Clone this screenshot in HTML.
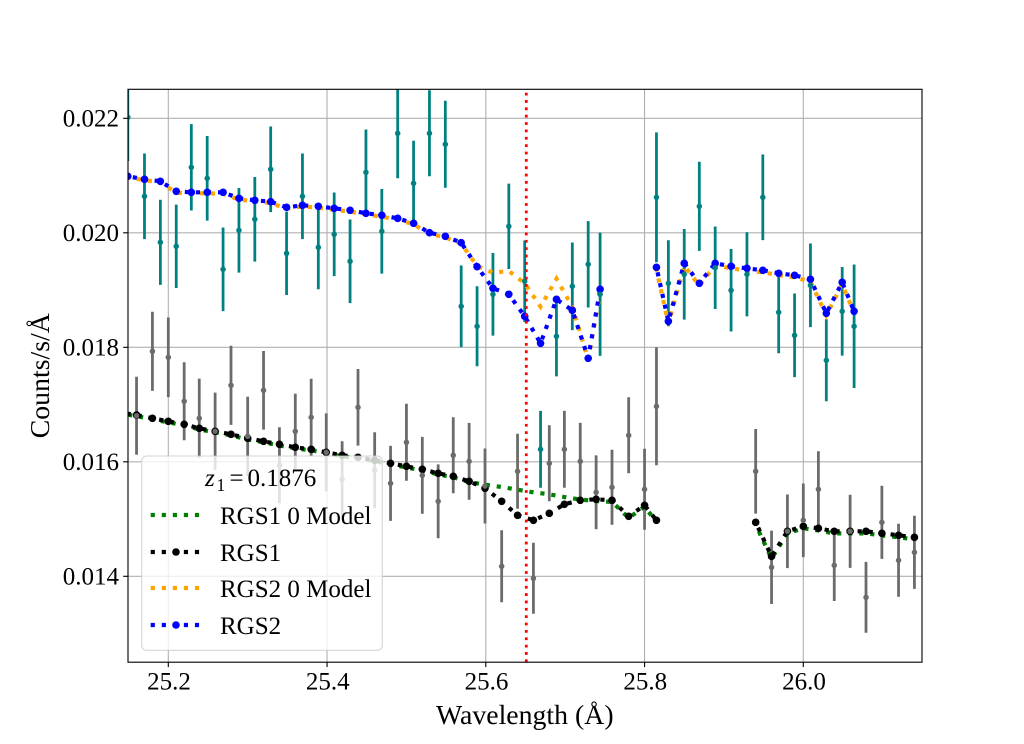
<!DOCTYPE html>
<html lang="en">
<head>
<meta charset="utf-8">
<title>RGS spectrum chart</title>
<style>
html,body{margin:0;padding:0;background:#fff;}
svg{display:block;font-family:"Liberation Serif","DejaVu Serif",serif;}
</style>
</head>
<body>
<svg id="chart" xmlns="http://www.w3.org/2000/svg" width="1024" height="744" viewBox="0 0 1024 744">
  <defs>
    <clipPath id="plot-clip"><rect x="128" y="89.3" width="793.6" height="572.9"/></clipPath>
  </defs>
  <rect x="0" y="0" width="1024" height="744" fill="#fff"/>
  <g id="grid"></g>
  <g id="marks" clip-path="url(#plot-clip)"></g>
  <rect x="128" y="89.3" width="794" height="572.9" fill="none" stroke="#000" stroke-width="1.11"/>
  <g id="ticks"></g>
  <text x="524.8" y="724" font-size="27.8" text-anchor="middle">Wavelength (Å)</text>
  <text transform="translate(49 375.7) rotate(-90)" font-size="27.8" text-anchor="middle">Counts/s/Å</text>
  <g id="legend">
    <rect x="141.7" y="456" width="240.6" height="194.3" rx="5" ry="5" fill="#fff" fill-opacity="0.8" stroke="#ccc" stroke-opacity="0.8" stroke-width="1.11"/>
    <g>
      <text x="205" y="486" font-size="25" font-style="italic">z</text>
      <text x="216.5" y="491" font-size="17.5">1</text>
      <text x="229.5" y="486" font-size="25">=</text>
      <text x="247.5" y="486" font-size="25">0.1876</text>
    </g>
    <g>
      <line x1="150.7" x2="200" y1="515" y2="515" stroke="#008000" stroke-width="4.17" stroke-dasharray="4.17 6.88"/>
      <text x="220" y="524" font-size="25">RGS1 0 Model</text>
    </g>
    <g>
      <line x1="150.7" x2="200" y1="552" y2="552" stroke="#000" stroke-width="4.17" stroke-dasharray="4.17 6.88"/>
      <circle cx="176" cy="552" r="3.8" fill="#000"/>
      <text x="220" y="561" font-size="25">RGS1</text>
    </g>
    <g>
      <line x1="150.7" x2="200" y1="588" y2="588" stroke="#ffa500" stroke-width="4.17" stroke-dasharray="4.17 6.88"/>
      <text x="220" y="597" font-size="25">RGS2 0 Model</text>
    </g>
    <g>
      <line x1="150.7" x2="200" y1="625" y2="625" stroke="#0000ff" stroke-width="4.17" stroke-dasharray="4.17 6.88"/>
      <circle cx="176" cy="625" r="3.8" fill="#0000ff"/>
      <text x="220" y="634" font-size="25">RGS2</text>
    </g>
  </g>
</svg>
<script>
const xTicks = [25.2, 25.4, 25.6, 25.8, 26.0];
const xTickLabels = ['25.2', '25.4', '25.6', '25.8', '26.0'];
const yTicks = [0.014, 0.016, 0.018, 0.020, 0.022];
const yTickLabels = ['0.014', '0.016', '0.018', '0.020', '0.022'];
const referenceWavelength = 25.651;

const rgs1Wave = [25.140,25.160,25.180,25.200,25.220,25.239,25.259,25.279,25.300,25.320,25.340,25.360,25.380,25.399,25.419,25.439,25.460,25.480,25.500,25.520,25.540,25.559,25.579,25.599,25.620,25.640,25.660,25.680,25.699,25.719,25.739,25.759,25.780,25.800,25.815,25.940,25.960,25.980,26.000,26.019,26.039,26.059,26.079,26.099,26.120,26.140];
const rgs1Counts = [0.016900,0.016805,0.017930,0.017825,0.017057,0.016760,0.016533,0.017336,0.016445,0.017249,0.015939,0.016533,0.016777,0.016166,0.015694,0.016952,0.015852,0.015624,0.016341,0.015764,0.015310,0.016114,0.016009,0.015577,0.014175,0.015834,0.013965,0.015974,0.016218,0.016009,0.015467,0.015555,0.016463,0.015520,0.016969,0.015834,0.014157,0.014786,0.014978,0.015520,0.014192,0.014786,0.013633,0.014943,0.014280,0.014419];
const rgs1Err = [0.000680,0.000681,0.000692,0.000695,0.000681,0.000692,0.000676,0.000690,0.000692,0.000686,0.000664,0.000657,0.000674,0.000680,0.000664,0.000669,0.000664,0.000655,0.000672,0.000672,0.000646,0.000664,0.000672,0.000655,0.000629,0.000655,0.000620,0.000664,0.000672,0.000672,0.000646,0.000655,0.000664,0.000707,0.001030,0.000739,0.000641,0.000643,0.000643,0.000664,0.000624,0.000638,0.000620,0.000638,0.000638,0.000638];
const rgs1Fit = [0.016858,0.016817,0.016760,0.016707,0.016655,0.016585,0.016533,0.016480,0.016410,0.016358,0.016306,0.016253,0.016218,0.016166,0.016114,0.016079,0.016026,0.015974,0.015921,0.015869,0.015799,0.015747,0.015659,0.015537,0.015310,0.015066,0.014978,0.015100,0.015258,0.015328,0.015345,0.015328,0.015048,0.015240,0.014978,0.014943,0.014349,0.014786,0.014873,0.014838,0.014786,0.014786,0.014786,0.014751,0.014716,0.014681];
const rgs1Model = [0.016840,0.016800,0.016740,0.016690,0.016635,0.016565,0.016515,0.016460,0.016390,0.016340,0.016285,0.016235,0.016200,0.016150,0.016095,0.016060,0.016010,0.015955,0.015900,0.015850,0.015780,0.015730,0.015647,0.015600,0.015560,0.015513,0.015467,0.015432,0.015385,0.015341,0.015315,0.015300,0.015020,0.015215,0.014950,0.014900,0.014310,0.014750,0.014840,0.014800,0.014750,0.014750,0.014750,0.014715,0.014680,0.014645];

const rgs2Wave = [25.149,25.170,25.190,25.210,25.229,25.249,25.269,25.289,25.309,25.329,25.349,25.369,25.389,25.409,25.429,25.449,25.469,25.489,25.509,25.529,25.549,25.569,25.589,25.609,25.629,25.649,25.669,25.689,25.709,25.729,25.744,25.815,25.830,25.850,25.869,25.889,25.909,25.929,25.949,25.969,25.989,26.009,26.029,26.049,26.064];
const rgs2Counts = [0.022017,0.020638,0.019834,0.019764,0.021144,0.020952,0.019362,0.020044,0.020236,0.021109,0.019642,0.020638,0.019747,0.019974,0.019502,0.021057,0.020026,0.021738,0.020865,0.021738,0.021546,0.018716,0.018367,0.018926,0.020114,0.019153,0.016218,0.018192,0.019066,0.019450,0.018926,0.020620,0.019118,0.019275,0.020463,0.019390,0.018996,0.019275,0.020620,0.018611,0.018210,0.019083,0.017773,0.018629,0.018367];
const rgs2Err = [0.000763,0.000748,0.000744,0.000728,0.000754,0.000739,0.000730,0.000739,0.000739,0.000748,0.000728,0.000748,0.000734,0.000730,0.000730,0.000748,0.000739,0.000786,0.000742,0.000751,0.000760,0.000713,0.000699,0.000721,0.000746,0.000713,0.000672,0.000699,0.000765,0.000754,0.001076,0.001135,0.000751,0.000791,0.000779,0.000721,0.000721,0.000734,0.000748,0.000716,0.000730,0.000730,0.000716,0.000774,0.001079];
const rgs2Fit = [0.020987,0.020934,0.020900,0.020725,0.020707,0.020707,0.020707,0.020603,0.020568,0.020543,0.020445,0.020480,0.020463,0.020428,0.020393,0.020341,0.020306,0.020253,0.020166,0.020002,0.019939,0.019827,0.019408,0.019031,0.018926,0.018541,0.018070,0.018838,0.018646,0.017808,0.019013,0.019397,0.018454,0.019467,0.019118,0.019467,0.019415,0.019380,0.019345,0.019293,0.019258,0.019188,0.018594,0.019135,0.018629];
const rgs2Model = [0.020970,0.020920,0.020880,0.020700,0.020690,0.020690,0.020680,0.020580,0.020550,0.020520,0.020420,0.020460,0.020440,0.020400,0.020370,0.020320,0.020280,0.020230,0.020150,0.019980,0.019920,0.019810,0.019420,0.019303,0.019333,0.019118,0.018709,0.019198,0.018709,0.017790,0.018950,0.019360,0.018410,0.019420,0.019080,0.019430,0.019380,0.019340,0.019310,0.019260,0.019220,0.019150,0.018560,0.019100,0.018600];

const NS = 'http://www.w3.org/2000/svg';
const plotLeft = 128, plotRight = 922, plotTop = 89.3, plotBottom = 662.2;
function xScale(w) { return 168.3 + (w - 25.2) * 793.75; }
function yScale(v) { return 118.3 + (0.022 - v) * 57250; }
function make(tag, attrs) {
  const el = document.createElementNS(NS, tag);
  for (const k in attrs) el.setAttribute(k, attrs[k]);
  return el;
}
const gridG = document.getElementById('grid');
const ticksG = document.getElementById('ticks');
const marksG = document.getElementById('marks');
const gridStyle = { stroke: '#b0b0b0', 'stroke-width': 1.11 };

xTicks.forEach(function (t, i) {
  const px = xScale(t);
  const g = make('line', Object.assign({ x1: px, x2: px, y1: plotTop, y2: plotBottom }, gridStyle));
  
  
  gridG.appendChild(g);
  const tick = make('line', { x1: px, x2: px, y1: plotBottom, y2: plotBottom + 4.86, stroke: '#000', 'stroke-width': 1.11 });
  
  
  ticksG.appendChild(tick);
  const label = make('text', { x: px + 0.7, y: 689.5, 'font-size': 25, 'text-anchor': 'middle' });
  label.textContent = xTickLabels[i];
  
  
  ticksG.appendChild(label);
});
yTicks.forEach(function (t, i) {
  const py = yScale(t);
  const g = make('line', Object.assign({ x1: plotLeft, x2: plotRight, y1: py, y2: py }, gridStyle));
  
  
  gridG.appendChild(g);
  const tick = make('line', { x1: plotLeft - 4.86, x2: plotLeft, y1: py, y2: py, stroke: '#000', 'stroke-width': 1.11 });
  
  
  ticksG.appendChild(tick);
  const label = make('text', { x: plotLeft - 9, y: py + 8.3, 'font-size': 25, 'text-anchor': 'end' });
  label.textContent = yTickLabels[i];
  
  
  ticksG.appendChild(label);
});

function drawBars(wave, counts, err, color, name) {
  wave.forEach(function (w, i) {
    const bar = make('line', { x1: xScale(w), x2: xScale(w), y1: yScale(counts[i] + err[i]), y2: yScale(counts[i] - err[i]), stroke: color, 'stroke-width': 2.78 });
    
    
    marksG.appendChild(bar);
  });
}
function segmentPath(wave, values) {
  let d = '';
  wave.forEach(function (w, i) {
    const jump = i === 0 || w - wave[i - 1] > 0.05;
    d += (jump ? 'M' : 'L') + xScale(w).toFixed(2) + ' ' + yScale(values[i]).toFixed(2);
  });
  return d;
}
function drawCurve(wave, values, color, dashOffset, name) {
  const p = make('path', { d: segmentPath(wave, values), fill: 'none', stroke: color, 'stroke-width': 4.17, 'stroke-dasharray': '4.17 6.88', 'stroke-dashoffset': dashOffset });
  
  
  marksG.appendChild(p);
}
function drawPoints(wave, values, color, radius, name) {
  wave.forEach(function (w, i) {
    const c = make('circle', { cx: xScale(w), cy: yScale(values[i]), r: radius, fill: color });
    
    
    marksG.appendChild(c);
  });
}

drawBars(rgs2Wave, rgs2Counts, rgs2Err, '#008080', 'rgs2-error-bar');
drawBars(rgs1Wave, rgs1Counts, rgs1Err, '#6b6b6b', 'rgs1-error-bar');
drawCurve(rgs1Wave, rgs1Model, '#008000', 3.5, 'rgs1-model-line');
drawCurve(rgs1Wave, rgs1Fit, '#000000', 5.15, 'rgs1-fit-line');
drawPoints(rgs1Wave, rgs1Fit, '#000000', 3.8, 'rgs1-fit-point');
drawCurve(rgs2Wave, rgs2Model, '#ffa500', 1.85, 'rgs2-model-line');
drawCurve(rgs2Wave, rgs2Fit, '#0000ff', 6, 'rgs2-fit-line');
drawPoints(rgs2Wave, rgs2Fit, '#0000ff', 3.8, 'rgs2-fit-point');
drawPoints(rgs2Wave, rgs2Counts, '#008080', 2.75, 'rgs2-data-point');
drawPoints(rgs1Wave, rgs1Counts, '#6b6b6b', 2.75, 'rgs1-data-point');

const refLine = make('line', { x1: xScale(referenceWavelength), x2: xScale(referenceWavelength), y1: plotBottom, y2: plotTop, stroke: '#ff0000', 'stroke-width': 2.78, 'stroke-dasharray': '2.78 4.58' });


marksG.appendChild(refLine);
</script>
</body>
</html>
